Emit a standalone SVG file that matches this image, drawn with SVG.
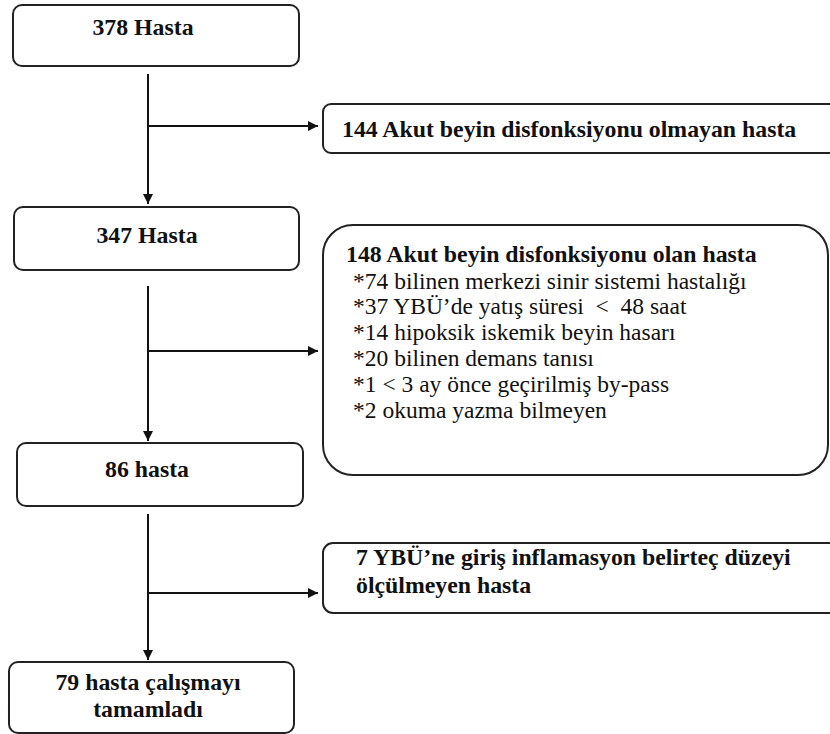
<svg xmlns="http://www.w3.org/2000/svg" width="830" height="734" viewBox="0 0 830 734">
<style>
.box{fill:#fff;stroke:#222;stroke-width:2}
.b{font-family:"Liberation Serif","Times New Roman",serif;font-weight:bold;font-size:23.8px;fill:#111}
.r{font-family:"Liberation Serif","Times New Roman",serif;font-size:23.5px;fill:#111}
.c{text-anchor:middle}
.ln{fill:none;stroke:#111;stroke-width:2}
</style>
<defs>
<marker id="ah" viewBox="0 0 10 10" refX="10" refY="5" markerWidth="5" markerHeight="5" markerUnits="strokeWidth" orient="auto">
<path d="M0,0 L10,5 L0,10 Z" fill="#111"/>
</marker>
</defs>
<rect width="830" height="734" fill="#fff"/>
<g id="connectors">
<line class="ln" x1="148" y1="74" x2="148" y2="204" marker-end="url(#ah)"/>
<line class="ln" x1="148" y1="126" x2="318" y2="126" marker-end="url(#ah)"/>
<line class="ln" x1="148" y1="286" x2="148" y2="441" marker-end="url(#ah)"/>
<line class="ln" x1="148" y1="351" x2="318" y2="351" marker-end="url(#ah)"/>
<line class="ln" x1="148" y1="514" x2="148" y2="660" marker-end="url(#ah)"/>
<line class="ln" x1="148" y1="593" x2="318" y2="593" marker-end="url(#ah)"/>
</g>
<g id="n378">
<rect class="box" x="13" y="5" width="286" height="61" rx="9"/>
<text class="b c" x="143" y="35">378 Hasta</text>
</g>
<g id="n144">
<rect class="box" x="323" y="104" width="540" height="49" rx="8"/>
<text class="b" x="342" y="137">144 Akut beyin disfonksiyonu olmayan hasta</text>
</g>
<g id="n347">
<rect class="box" x="14" y="207" width="285" height="63" rx="9"/>
<text class="b c" x="147" y="243">347 Hasta</text>
</g>
<g id="n148">
<rect class="box" x="323" y="225" width="505" height="250" rx="30"/>
<text class="b" x="346" y="262">148 Akut beyin disfonksiyonu olan hasta</text>
<text class="r" x="353" y="289">*74 bilinen merkezi sinir sistemi hastalığı</text>
<text class="r" x="353" y="314" xml:space="preserve">*37 YBÜ’de yatış süresi  &lt;  48 saat</text>
<text class="r" x="353" y="340">*14 hipoksik iskemik beyin hasarı</text>
<text class="r" x="353" y="366">*20 bilinen demans tanısı</text>
<text class="r" x="353" y="392">*1 &lt; 3 ay önce geçirilmiş by-pass</text>
<text class="r" x="353" y="418">*2 okuma yazma bilmeyen</text>
</g>
<g id="n86">
<rect class="box" x="17" y="443" width="286" height="63" rx="9"/>
<text class="b c" x="147" y="477">86 hasta</text>
</g>
<g id="n7">
<rect class="box" x="323" y="543" width="540" height="70" rx="10"/>
<text class="b" x="356" y="565">7 YBÜ’ne giriş inflamasyon belirteç düzeyi</text>
<text class="b" x="356" y="593">ölçülmeyen hasta</text>
</g>
<g id="n79">
<rect class="box" x="9" y="662" width="285" height="71" rx="9"/>
<text class="b c" x="148" y="690">79 hasta çalışmayı</text>
<text class="b c" x="148" y="717">tamamladı</text>
</g>
</svg>
